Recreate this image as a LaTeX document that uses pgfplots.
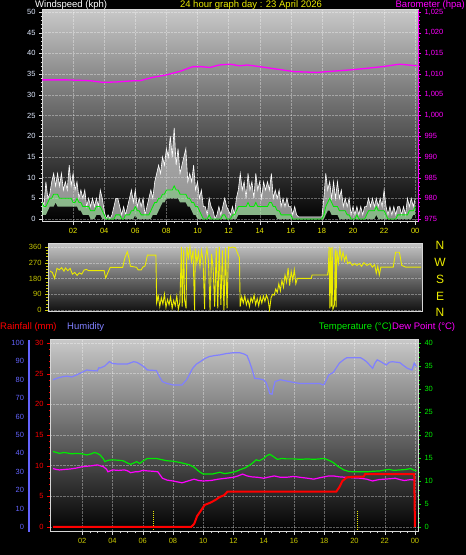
\documentclass[border=0pt]{standalone}
\usepackage{fontspec}
\setmainfont{Liberation Sans}
\usepackage{pgfplots}
\usepackage{pgfplotstable}
\pgfplotsset{compat=1.18}
\usepgfplotslibrary{fillbetween}

\definecolor{bggray}{RGB}{200,200,200}
\definecolor{framegray}{RGB}{215,215,215}
\definecolor{ylw}{RGB}{235,235,0}
\definecolor{olv}{RGB}{200,200,0}
\definecolor{mag}{RGB}{255,0,255}
\definecolor{hum}{RGB}{128,128,255}
\definecolor{humax}{RGB}{100,100,255}
\definecolor{tempg}{RGB}{0,235,0}
\definecolor{gustfill}{RGB}{235,235,235}
\definecolor{avgfill}{RGB}{180,240,180}
\definecolor{windtxt}{RGB}{225,235,255}
\pagecolor{black}

\pgfplotstableread{
t g a l
0.000 5 4 1
0.125 3 3 1
0.250 9 3 1
0.375 5 4 2
0.500 6 5 3
0.625 9 5 3
0.750 11 6 3
0.875 8 6 4
1.000 11 6 3
1.125 8 5 3
1.250 11 5 3
1.375 7 5 3
1.500 9 5 3
1.625 7 5 3
1.750 13 5 3
1.875 8 5 3
2.000 11 4 3
2.125 7 4 3
2.250 9 5 3
2.375 5 4 2
2.500 7 4 2
2.625 5 3 1
2.750 7 3 1
2.875 3 3 1
3.000 5 3 1
3.125 3 2 0
3.250 5 2 0
3.375 3 2 0
3.500 5 3 1
3.625 3 3 1
3.750 7 3 1
3.875 5 2 0
4.000 2 1 0
4.125 0 0 0
4.250 1 0 0
4.375 0 0 0
4.500 1 0 0
4.625 3 0 0
4.750 5 1 0
4.875 5 1 0
5.000 3 1 0
5.125 1 0 0
5.250 3 0 0
5.375 1 1 0
5.500 3 1 0
5.625 5 1 0
5.750 7 2 0
5.875 4 2 0
6.000 7 3 1
6.125 3 2 0
6.250 5 2 0
6.375 3 1 0
6.500 5 1 0
6.625 1 1 0
6.750 3 1 0
6.875 5 1 0
7.000 7 2 0
7.125 5 3 1
7.250 9 4 1
7.375 11 4 1
7.500 13 5 2
7.625 11 5 3
7.750 15 6 4
7.875 13 6 4
8.000 17 7 5
8.125 15 7 5
8.250 20 7 5
8.375 15 7 5
8.500 22 8 5
8.625 13 7 5
8.750 17 7 5
8.875 11 6 4
9.000 13 6 4
9.125 15 6 4
9.250 17 6 4
9.375 9 5 3
9.500 11 5 3
9.625 9 4 2
9.750 13 4 1
9.875 7 3 1
10.000 9 3 0
10.125 5 2 0
10.250 7 1 0
10.375 3 0 0
10.500 3 0 0
10.625 1 0 0
10.750 5 1 0
10.875 3 0 0
11.000 2 0 0
11.125 0 0 0
11.250 1 0 0
11.375 3 0 0
11.500 1 0 0
11.625 3 1 0
11.750 5 1 0
11.875 3 0 0
12.000 2 0 0
12.125 1 0 0
12.250 3 1 0
12.375 1 1 0
12.500 5 2 0
12.625 7 3 1
12.750 11 3 1
12.875 7 3 1
13.000 9 3 1
13.125 5 3 1
13.250 11 4 1
13.375 7 3 1
13.500 9 3 1
13.625 5 3 1
13.750 11 4 1
13.875 7 3 1
14.000 9 3 1
14.125 5 3 1
14.250 9 3 1
14.375 7 3 1
14.500 9 3 1
14.625 7 4 1
14.750 11 4 1
14.875 5 3 1
15.000 7 3 1
15.125 5 2 0
15.250 7 2 0
15.375 3 1 0
15.500 5 1 0
15.625 3 1 0
15.750 5 1 0
15.875 3 1 0
16.000 3 1 0
16.125 1 0 0
16.250 3 0 0
16.375 1 0 0
16.500 0.5 0 0
17.000 0.5 0 0
17.500 0.5 0 0
18.000 0.5 0 0
18.125 5 1 0
18.250 11 3 1
18.375 7 4 2
18.500 9 5 2
18.625 5 4 1
18.750 9 3 1
18.875 5 3 1
19.000 9 3 1
19.125 5 2 0
19.250 7 2 0
19.375 3 2 0
19.500 5 2 0
19.625 3 1 0
19.750 5 1 0
19.875 1 0 0
20.000 3 0 0
20.125 1 0 0
20.250 3 1 0
20.375 1 0 0
20.500 3 0 0
20.625 1 0 0
20.750 3 0 0
20.875 3 1 0
21.000 5 2 0
21.125 3 2 0
21.250 5 2 0
21.375 3 2 0
21.500 5 3 1
21.625 3 2 0
21.750 5 2 0
21.875 3 2 0
22.000 7 2 0
22.125 3 1 0
22.250 1 0 0
22.375 3 0 0
22.500 1 0 0
22.625 3 0 0
22.750 1 0 0
22.875 3 1 0
23.000 3 1 0
23.125 1 1 0
23.250 3 1 0
23.375 1 1 0
23.500 5 1 0
23.625 3 2 0
23.750 5 2 0
23.875 3 2 1
24.000 5 3 1
}\wind

\pgfplotstableread{
t p
0.0 1008.6
1.6 1008.6
3.1 1008.4
3.9 1008.0
4.8 1008.1
5.9 1008.4
6.3 1008.4
7.1 1009.2
8.0 1009.8
8.9 1010.7
9.7 1011.8
10.2 1011.8
10.8 1011.6
11.4 1012.2
12.1 1012.4
12.7 1012.0
13.2 1012.2
14.0 1011.8
15.1 1011.2
16.2 1010.6
17.7 1010.4
18.7 1010.7
19.8 1011.0
20.9 1011.4
21.9 1011.8
23.0 1012.4
24.1 1012.0
}\baro

\pgfplotstableread{
t d
0.00 223
0.15 215
0.30 181
0.45 238
0.60 230
0.75 242
0.90 222
1.00 240
1.15 225
1.30 238
1.45 205
1.60 215
1.75 198
1.90 212
2.05 205
2.20 228
2.35 232
2.50 225
3.50 225
3.60 183
3.75 215
3.90 244
4.70 244
4.85 300
5.00 333
5.10 300
5.20 250
5.60 244
5.70 229
5.90 229
6.00 245
6.15 252
6.30 314
6.85 314
6.90 40
7.00 80
7.10 20
7.20 70
7.30 35
7.40 90
7.50 15
7.60 60
7.70 30
7.80 75
7.90 10
8.00 55
8.10 25
8.20 80
8.30 5
8.40 45
8.50 360
8.55 20
8.65 350
8.70 60
8.80 10
8.85 360
8.95 300
9.05 360
9.15 280
9.25 340
9.35 0
9.40 350
9.50 270
9.60 330
9.70 250
9.80 340
9.90 280
10.00 5
10.05 300
10.15 350
10.25 280
10.35 0
10.45 320
10.55 240
10.65 20
10.75 355
10.85 10
10.95 360
11.05 30
11.15 340
11.25 0
11.35 355
11.45 10
11.55 360
11.65 355
11.80 360
12.00 355
12.15 320
12.25 300
12.30 20
12.40 75
12.50 40
12.60 80
12.70 30
12.80 60
12.90 20
13.00 70
13.10 45
13.20 85
13.30 30
13.40 65
13.50 25
13.60 75
13.70 40
13.80 80
13.90 50
14.00 85
14.10 60
14.20 0
14.30 70
14.40 90
14.50 85
14.60 120
14.70 100
14.80 150
14.90 110
15.00 170
15.10 130
15.20 200
15.30 160
15.40 240
15.50 140
15.60 220
15.70 170
15.80 230
15.90 150
16.00 181
16.90 181
16.95 200
17.95 200
18.00 230
18.05 360
18.10 10
18.15 355
18.20 20
18.25 360
18.30 5
18.40 30
18.45 350
18.50 15
18.55 340
18.65 270
18.75 350
18.85 290
18.95 330
19.05 280
19.15 310
19.25 265
19.40 275
19.55 255
19.70 265
19.85 255
20.00 265
20.15 250
20.30 270
20.50 255
20.70 265
20.85 245
21.00 260
21.10 210
21.20 250
21.30 200
21.40 245
22.20 245
22.35 330
22.60 330
22.75 255
23.00 245
24.00 245
}\wdir

\pgfplotstableread{
t h
0.07 80
0.4 81
0.73 81.7
1.0 82
1.3 81.5
1.6 82.5
1.85 83.5
2.1 84.5
2.3 85.3
2.6 85
3.0 84.8
3.1 86.5
3.2 86.4
3.5 87.5
3.8 89.9
4.0 88.8
4.3 88.6
5.0 88.6
5.4 89.8
5.6 89.5
5.8 88.6
6.1 87
6.3 85.3
6.9 85
7.1 81.7
7.3 79
7.6 78
8.0 77.2
8.6 77.2
8.9 80
9.1 83
9.3 86.2
9.55 88.5
9.8 89.8
10.1 91.5
10.4 92.6
10.8 93.2
11.1 93.5
11.5 94.2
12.0 94.7
12.4 94.7
12.7 94
12.9 93.1
13.05 90
13.2 86.4
13.4 80.8
13.7 80.5
14.0 79.9
14.15 78.5
14.3 75.4
14.4 72.5
14.55 72.1
14.65 76
14.75 79
15.1 80
15.4 79.5
15.7 79
16.0 78.5
16.4 78
17.3 78
17.7 78
17.9 77.2
18.0 77.5
18.3 82.6
18.6 84
18.8 86.5
19.0 89
19.3 91
19.5 92
20.4 92
20.6 91
20.8 89.8
21.0 88
21.2 86.2
21.35 89
21.5 90.8
21.7 90
21.9 89
22.1 88
22.3 89.5
22.5 89.8
22.8 89.5
23.0 89.3
23.2 88
23.5 86.2
23.8 85.3
23.95 89
24.1 87
}\humid

\pgfplotstableread{
t T
0.07 16.4
0.3 16.2
0.5 16.0
0.8 16.2
1.0 16.1
1.3 15.9
1.6 16.0
2.0 15.9
2.3 15.65
2.6 15.9
2.8 16.2
3.0 16.0
3.2 15.6
3.4 14.8
3.5 14.2
3.7 14.5
4.0 14.6
4.4 14.5
4.7 14.4
5.0 13.9
5.2 13.6
5.4 13.9
5.6 14.2
5.8 13.8
6.0 14.3
6.3 14.9
6.9 14.9
7.3 14.6
7.6 14.4
8.0 14.3
8.5 14.0
9.1 13.5
9.4 13.0
9.6 12.4
9.8 11.9
10.0 11.5
10.6 11.5
11.1 11.9
11.4 11.6
11.8 11.8
12.1 12.0
12.4 12.4
12.8 12.9
13.1 13.5
13.3 14.0
13.5 14.6
13.7 14.4
14.0 14.9
14.2 15.5
14.4 15.8
14.6 15.4
14.9 14.7
15.2 14.9
15.5 14.8
16.0 14.8
16.4 14.7
16.9 14.8
17.3 14.7
17.7 14.8
18.0 14.9
18.3 14.5
18.6 14.0
18.9 13.2
19.3 12.4
19.6 12.1
19.9 12.0
20.4 12.0
20.8 12.0
21.2 12.1
21.7 12.2
22.0 12.4
22.3 12.5
22.6 12.3
23.0 12.4
23.4 12.5
23.7 12.7
23.9 12.4
24.1 12.2
}\temp

\pgfplotstableread{
t D
0.07 12.7
0.3 12.5
0.5 12.4
0.8 12.5
1.2 12.6
1.6 12.8
2.0 13.1
2.3 13.2
2.6 13.3
3.0 13.5
3.2 13.3
3.4 13.1
3.6 12.6
3.7 12.0
4.0 12.4
4.4 12.3
4.8 12.4
5.0 12.2
5.2 11.8
5.5 12.0
5.7 12.0
6.0 12.3
6.3 12.2
6.7 12.1
7.0 12.0
7.3 10.6
7.6 10.2
8.0 10.0
8.3 9.8
8.6 9.6
9.0 10.0
9.4 10.4
9.7 10.1
10.0 10.0
10.5 10.1
11.0 10.4
11.5 10.6
12.0 10.8
12.3 11.1
12.6 11.5
12.9 11.1
13.2 10.9
13.6 10.8
14.0 10.6
14.4 10.9
14.7 11.1
15.1 10.8
15.5 10.8
16.0 11.0
16.4 10.8
16.9 10.6
17.3 10.4
17.7 10.7
18.0 10.9
18.3 11.1
18.6 11.1
19.0 10.9
19.4 10.8
19.9 10.7
20.4 10.6
20.8 10.4
21.2 10.0
21.6 10.3
22.0 10.4
22.4 10.5
22.7 10.6
23.0 10.3
23.3 10.1
23.7 10.3
24.0 10.2
}\dew

\pgfplotstableread{
t r
0.07 0
9.2 0
9.4 0.5
9.6 1.8
9.8 2.5
10.1 3.6
10.5 4.0
10.8 4.4
11.1 4.9
11.4 5.2
11.6 5.76
18.8 5.76
19.0 6.5
19.2 7.5
19.5 8.1
20.0 8.2
20.6 8.2
20.7 8.6
23.95 8.6
24.0 0
}\rain

\pgfplotsset{
  base/.style={scale only axis, anchor=south west,
    tick label style={font=\fontsize{7.5}{8}\selectfont},
    /pgf/number format/assume math mode=true,
    tick align=outside, major tick length=3pt, minor tick length=1.5pt,
    major grid style={white, opacity=0.35, densely dotted}},
}

\begin{document}
\begin{tikzpicture}[x=1pt,y=1pt]

% ---------- wind speed ----------
\begin{axis}[base, at={(42pt,333pt)}, width=376pt, height=212pt,
  xmin=0, xmax=24.18, ymin=-0.72, ymax=50.48,
  xtick={2,4,...,24}, xticklabels={02,04,06,08,10,12,14,16,18,20,22,00},
  minor x tick num=3, ytick={0,5,...,50}, minor y tick num=4,
  xtick pos=bottom, ytick pos=left,
  x tick label style={text=ylw}, y tick label style={text=windtxt},
  tick style={framegray}, axis line style={framegray, line width=1pt},
  axis background/.style={top color=bggray, bottom color=black},
  grid=major]
\addplot[name path=gust, draw=none] table[x=t,y=g]{\wind};
\addplot[name path=avg, draw=none] table[x=t,y=a]{\wind};
\addplot[name path=low, draw=none] table[x=t,y=l]{\wind};
\addplot[gustfill, fill opacity=0.6] fill between[of=gust and avg];
\addplot[avgfill, fill opacity=0.75] fill between[of=avg and low];
\addplot[white, line width=0.6pt] table[x=t,y=g]{\wind};
\addplot[tempg, line width=0.8pt] table[x=t,y=a]{\wind};
\end{axis}
\begin{axis}[base, at={(42pt,333pt)}, width=376pt, height=212pt,
  xmin=0, xmax=24.18, ymin=974.28, ymax=1025.48,
  axis x line=none, axis y line*=right,
  ytick={975,980,...,1025}, minor y tick num=4,
  y tick label style={text=mag, font=\fontsize{7.5}{8}\selectfont},
  tick style={mag}, y axis line style={mag, line width=1pt}]
\addplot[mag, line width=1.3pt] table[x=t,y=p]{\baro};
\end{axis}

% ---------- wind direction ----------
\begin{axis}[base, at={(48pt,243pt)}, width=374pt, height=68pt,
  xmin=-0.13, xmax=24.06, ymin=-11.4, ymax=377.2,
  xtick=\empty, ytick={0,90,180,270,360}, minor y tick num=4, ytick pos=left,
  y tick label style={text=olv}, tick style={olv},
  axis line style={framegray, line width=1pt},
  axis background/.style={top color={rgb,255:red,195;green,195;blue,195}, bottom color={rgb,255:red,15;green,15;blue,15}},
  ymajorgrids]
\addplot[ylw, line width=0.9pt] table[x=t,y=d]{\wdir};
\end{axis}

% ---------- bottom: rain axis (main) ----------
\begin{axis}[base, at={(50pt,23pt)}, width=368pt, height=192pt,
  xmin=-0.13, xmax=24.2, ymin=-0.815, ymax=30.48,
  xtick={2,4,...,24}, xticklabels={02,04,06,08,10,12,14,16,18,20,22,00},
  minor x tick num=3, ytick={0,5,...,30}, minor y tick num=4,
  xtick pos=bottom, ytick pos=left,
  x tick label style={text=olv}, y tick label style={text=red},
  ytick style={red}, xtick style={framegray},
  axis line style={framegray, line width=1pt},
  axis background/.style={top color=bggray, bottom color=black},
  grid=major]
\addplot[draw=none] coordinates {(1,1)};
\end{axis}
% humidity axis (separate)
\begin{axis}[base, at={(29pt,23pt)}, width=1pt, height=192pt,
  xmin=0, xmax=1, ymin=-2.72, ymax=101.6,
  axis x line=none, axis y line=left, xtick=\empty,
  ytick={0,10,...,100}, minor y tick num=4,
  y tick label style={text=humax}, tick style={humax},
  y axis line style={humax, line width=1.5pt, -}]
\addplot[draw=none] coordinates {(0.5,50)};
\end{axis}
% humidity data
\begin{axis}[base, at={(50pt,23pt)}, width=368pt, height=192pt,
  xmin=-0.13, xmax=24.2, ymin=-2.72, ymax=101.6, hide axis]
\addplot[hum, line width=1.2pt] table[x=t,y=h]{\humid};
\addplot[ylw, densely dotted, line width=1pt] coordinates {(6.68,-1.5) (6.68,9.3)};
\addplot[ylw, densely dotted, line width=1pt] coordinates {(20.23,-1.5) (20.23,9.3)};
\end{axis}
% temperature axis + data
\begin{axis}[base, at={(50pt,23pt)}, width=368pt, height=192pt,
  xmin=-0.13, xmax=24.2, ymin=-1.087, ymax=40.64,
  axis x line=none, axis y line*=right,
  ytick={0,5,...,40}, minor y tick num=4,
  y tick label style={text=tempg}, tick style={tempg},
  y axis line style={framegray, line width=1pt}]
\addplot[tempg, line width=1.2pt] table[x=t,y=T]{\temp};
\addplot[mag, line width=1.2pt] table[x=t,y=D]{\dew};
\end{axis}
% rain data
\begin{axis}[base, at={(50pt,23pt)}, width=368pt, height=192pt,
  xmin=-0.13, xmax=24.2, ymin=-0.815, ymax=30.48, hide axis]
\addplot[red, line width=2pt] table[x=t,y=r]{\rain};
\end{axis}

% ---------- titles ----------
\begin{scope}[every node/.style={font=\fontsize{9.5}{11}\selectfont, inner sep=0pt}]
\node[anchor=base west, text=white] at (35,547.5) {Windspeed (kph)};
\node[anchor=base, text=ylw] at (251,547.5) {24 hour graph day : 23 April 2026};
\node[anchor=base east, text=mag] at (465,547.5) {Barometer (hpa)};
\node[anchor=west, text=red] at (0,228) {Rainfall (mm)};
\node[anchor=west, text=hum] at (67,228) {Humidity};
\node[anchor=east, text=tempg] at (392,228) {Temperature (°C)};
\node[anchor=west, text=mag] at (392,228) {Dew Point (°C)};
\end{scope}
\begin{scope}[every node/.style={font=\fontsize{12}{14}\selectfont, inner sep=0pt, text=ylw}]
\node at (440,310) {N};
\node at (440,293) {W};
\node at (440,276) {S};
\node at (440,259) {E};
\node at (440,243) {N};
\end{scope}
\pgfresetboundingbox
\useasboundingbox (0,0) rectangle (466,555);
\end{tikzpicture}
\end{document}
